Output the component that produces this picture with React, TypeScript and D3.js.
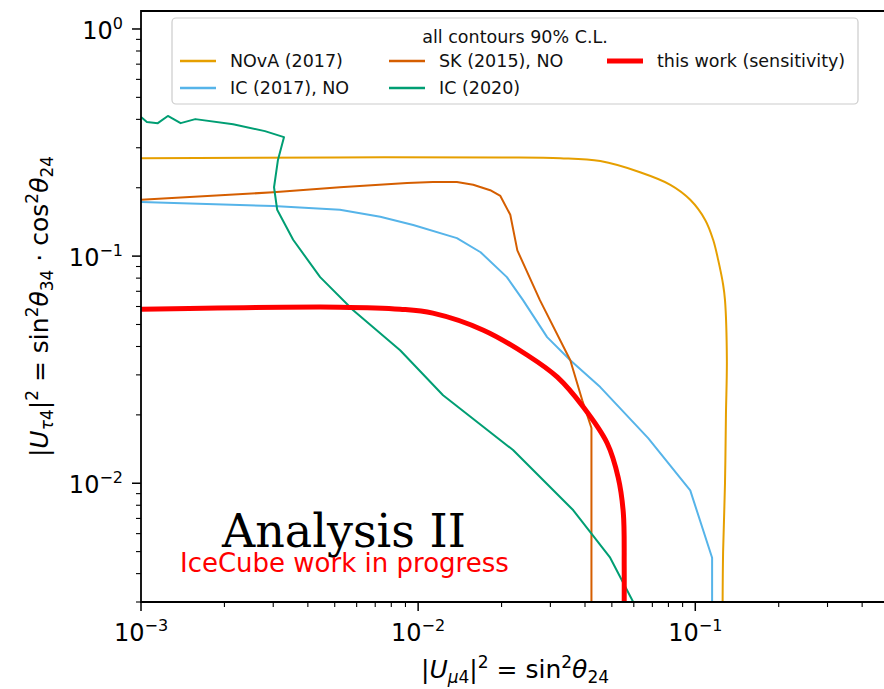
import React from 'react';
import * as d3 from 'd3';

const W = 884;
const H = 689;

// contours, [|U_mu4|^2, |U_tau4|^2]
const nova2017: [number, number][] = [
  [0.001, 0.27], [0.005, 0.272], [0.02, 0.272], [0.0326, 0.27], [0.0454, 0.262],
  [0.0632, 0.234], [0.0813, 0.206], [0.0959, 0.177], [0.1087, 0.144], [0.116, 0.118],
  [0.121, 0.096], [0.126, 0.075], [0.128, 0.064], [0.13, 0.035], [0.129, 0.02],
  [0.128, 0.01], [0.126, 0.005], [0.1255, 0.003],
];
const sk2015: [number, number][] = [
  [0.001, 0.177], [0.003, 0.191], [0.00522, 0.201], [0.00912, 0.21], [0.0113, 0.212],
  [0.0138, 0.212], [0.0158, 0.206], [0.0182, 0.195], [0.0198, 0.184], [0.0215, 0.152],
  [0.0228, 0.106], [0.0275, 0.064], [0.0354, 0.0348], [0.0391, 0.0232], [0.0422, 0.0175],
  [0.0422, 0.003],
];
const ic2017: [number, number][] = [
  [0.001, 0.173], [0.003, 0.166], [0.00522, 0.16], [0.0073, 0.149], [0.0096, 0.137],
  [0.0138, 0.12], [0.0168, 0.104], [0.0209, 0.0808], [0.0239, 0.064], [0.0292, 0.044],
  [0.0354, 0.0348], [0.0454, 0.0265], [0.0676, 0.0158], [0.0959, 0.0093], [0.115, 0.0047],
  [0.115, 0.003],
];
const ic2020: [number, number][] = [
  [0.001, 0.41], [0.00105, 0.389], [0.00115, 0.385], [0.00125, 0.414], [0.00139, 0.385],
  [0.00157, 0.401], [0.00215, 0.381], [0.0028, 0.355], [0.00328, 0.334], [0.00312, 0.265],
  [0.00302, 0.201], [0.0031, 0.16], [0.00354, 0.118], [0.00443, 0.0808], [0.00583, 0.0578],
  [0.00861, 0.0385], [0.0123, 0.0244], [0.022, 0.014], [0.0363, 0.0076], [0.0493, 0.0047],
  [0.0597, 0.003],
];
const thisWork: [number, number][] = [
  [0.001, 0.0584], [0.00522, 0.0596], [0.00861, 0.0584], [0.0113, 0.0561], [0.0172, 0.0472],
  [0.0248, 0.0366], [0.0318, 0.0293], [0.0395, 0.0216], [0.0481, 0.015], [0.0527, 0.0106],
  [0.055, 0.0074], [0.0554, 0.0043], [0.0554, 0.003],
];

const xTickExp = [-3, -2, -1];
const yTickExp = [-2, -1, 0];

const legendLabels = ['NOvA (2017)', 'IC (2017), NO', 'SK (2015), NO', 'IC (2020)', 'this work (sensitivity)'];
const legendColors = ['#E69F00', '#56B4E9', '#D55E00', '#009E73', '#FF0000'];

const font = 'DejaVu Sans, sans-serif';

function minorTicks(lo: number, hi: number) {
  const out: number[] = [];
  for (let e = -4; e <= 1; e++) {
    for (let m = 2; m <= 9; m++) {
      const v = m * Math.pow(10, e);
      if (v >= lo * 0.999 && v <= hi * 1.001) out.push(v);
    }
  }
  return out;
}

function Pow10({ e }: { e: number }) {
  return (
    <>
      10
      <tspan fontSize={16} dy={-10}>{e < 0 ? '\u2212' + Math.abs(e) : String(e)}</tspan>
    </>
  );
}

export default function App() {
  const x = d3.scaleLog().domain([1e-3, 0.5]).range([141, 889]);
  const y = d3.scaleLog().domain([0.003, 1.2]).range([602, 11]);
  const [x0, x1] = x.range();
  const [y0, y1] = y.range();

  const line = d3.line<[number, number]>().x((d) => x(d[0])).y((d) => y(d[1]));
  const smooth = d3
    .line<[number, number]>()
    .x((d) => x(d[0]))
    .y((d) => y(d[1]))
    .curve(d3.curveCatmullRom.alpha(0.5));

  const series = [
    { data: nova2017, color: legendColors[0], w: 2, path: smooth },
    { data: ic2017, color: legendColors[1], w: 2, path: line },
    { data: sk2015, color: legendColors[2], w: 2, path: line },
    { data: ic2020, color: legendColors[3], w: 2, path: line },
    { data: thisWork, color: legendColors[4], w: 5, path: smooth },
  ];

  // legend: two rows, columns filled top to bottom
  const legX = 172;
  const legY = 18;
  const colX = [180, 389, 607];
  const rowY = [61, 88];

  return (
    <svg width={W} height={H} style={{ position: 'absolute', left: 0, top: 0, background: '#fff' }}>
      <defs>
        <clipPath id="plot">
          <rect x={x0} y={y1} width={x1 - x0} height={y0 - y1} />
        </clipPath>
      </defs>

      <g clipPath="url(#plot)" fill="none" strokeLinejoin="round">
        {series.map((s, i) => (
          <path key={i} d={s.path(s.data) || ''} stroke={s.color} strokeWidth={s.w} />
        ))}
      </g>

      {/* frame (right spine falls outside the picture) */}
      <path d={`M${x1},${y1}H${x0}V${y0}H${x1}`} fill="none" stroke="#000" strokeWidth={1.8} />

      {/* y ticks */}
      {yTickExp.map((e) => (
        <g key={'y' + e}>
          <line x1={x0 - 9} x2={x0} y1={y(Math.pow(10, e))} y2={y(Math.pow(10, e))} stroke="#000" strokeWidth={1.5} />
          <text x={123} y={y(Math.pow(10, e)) + 10} textAnchor="end" fontFamily={font} fontSize={24} fill="#000">
            <Pow10 e={e} />
          </text>
        </g>
      ))}
      {minorTicks(0.003, 1.2).map((v) => (
        <line key={'ym' + v} x1={x0 - 5} x2={x0} y1={y(v)} y2={y(v)} stroke="#000" strokeWidth={1.1} />
      ))}

      {/* x ticks */}
      {xTickExp.map((e) => (
        <g key={'x' + e}>
          <line x1={x(Math.pow(10, e))} x2={x(Math.pow(10, e))} y1={y0} y2={y0 + 9} stroke="#000" strokeWidth={1.5} />
          <text x={x(Math.pow(10, e))} y={641} textAnchor="middle" fontFamily={font} fontSize={24} fill="#000">
            <Pow10 e={e} />
          </text>
        </g>
      ))}
      {minorTicks(1e-3, 0.5).map((v) => (
        <line key={'xm' + v} x1={x(v)} x2={x(v)} y1={y0} y2={y0 + 5} stroke="#000" strokeWidth={1.1} />
      ))}

      {/* axis labels */}
      <text x={(x0 + 889) / 2} y={678} textAnchor="middle" fontFamily={font} fontSize={25} fill="#000">
        |<tspan fontStyle="italic">U</tspan>
        <tspan fontSize={17} dy={5}><tspan fontStyle="italic">μ</tspan>4</tspan>
        <tspan dy={-5}>|</tspan>
        <tspan fontSize={17} dy={-10}>2</tspan>
        <tspan dy={10}> = sin</tspan>
        <tspan fontSize={17} dy={-10}>2</tspan>
        <tspan dy={10} fontStyle="italic">θ</tspan>
        <tspan fontSize={17} dy={5}>24</tspan>
      </text>

      <text
        transform={`translate(48, ${(y0 + y1) / 2}) rotate(-90)`}
        textAnchor="middle"
        fontFamily={font}
        fontSize={25}
        fill="#000"
      >
        |<tspan fontStyle="italic">U</tspan>
        <tspan fontSize={17} dy={5}><tspan fontStyle="italic">τ</tspan>4</tspan>
        <tspan dy={-5}>|</tspan>
        <tspan fontSize={17} dy={-10}>2</tspan>
        <tspan dy={10}> = sin</tspan>
        <tspan fontSize={17} dy={-10}>2</tspan>
        <tspan dy={10} fontStyle="italic">θ</tspan>
        <tspan fontSize={17} dy={5}>34</tspan>
        <tspan dy={-5}> · cos</tspan>
        <tspan fontSize={17} dy={-10}>2</tspan>
        <tspan dy={10} fontStyle="italic">θ</tspan>
        <tspan fontSize={17} dy={5}>24</tspan>
      </text>

      {/* legend */}
      <rect x={legX} y={legY} width={686} height={86} rx={4} fill="#fff" fillOpacity={0.8} stroke="#cccccc" strokeWidth={1.2} />
      <text x={legX + 343} y={43} textAnchor="middle" fontFamily={font} fontSize={17.5} fill="#111">
        all contours 90% C.L.
      </text>
      {legendLabels.map((lab, i) => {
        const cx = colX[Math.floor(i / 2)];
        const cy = rowY[i % 2];
        return (
          <g key={lab}>
            <line x1={cx} x2={cx + 36} y1={cy} y2={cy} stroke={legendColors[i]} strokeWidth={i === 4 ? 5 : 2.5} />
            <text x={cx + 50} y={cy + 6} fontFamily={font} fontSize={17.5} fill="#111">
              {lab}
            </text>
          </g>
        );
      })}

      {/* annotations */}
      <text x={222} y={547} fontFamily="DejaVu Serif, serif" fontSize={46} fill="#000">
        Analysis II
      </text>
      <text x={180} y={572} fontFamily={font} fontSize={26} fill="#FF0000">
        IceCube work in progress
      </text>
    </svg>
  );
}
